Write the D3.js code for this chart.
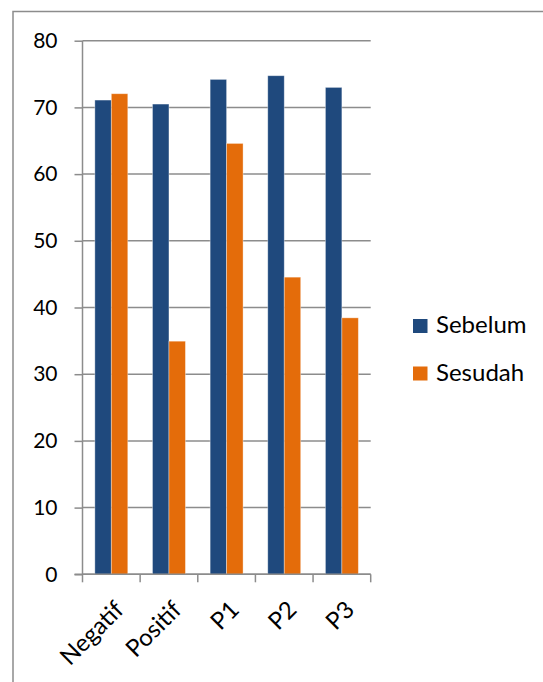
<!DOCTYPE html>
<html>
<head>
<meta charset="utf-8">
<script src="https://cdn.jsdelivr.net/npm/d3@7"></script>
<style>
  html, body { margin: 0; padding: 0; background: #fff; }
  svg { display: block; }
  text { font-family: Lato, "Open Sans", sans-serif; fill: #000; }
</style>
</head>
<body>
<svg id="chart" width="543" height="682"></svg>
<script>
// Group names, series and values
const categories = ["Negatif", "Positif", "P1", "P2", "P3"];
const seriesNames = ["Sebelum", "Sesudah"];
const sebelum = [71.1, 70.5, 74.2, 74.75, 73.0];
const sesudah = [72.05, 34.95, 64.6, 44.55, 38.45];
const yTicks = [0, 10, 20, 30, 40, 50, 60, 70, 80];
const colors = ["#1F497D", "#E46C0A"];

const svg = d3.select("#chart");

// Outer chart frame (runs past the bottom and right edges)
svg.append("rect")
  .attr("x", 13).attr("y", 11.5)
  .attr("width", 545).attr("height", 700)
  .attr("fill", "none").attr("stroke", "#8c8c8c").attr("stroke-width", 1.5);

const plot = { left: 82.5, right: 370.7, top: 40.7, bottom: 574.3 };

const x = d3.scaleBand().domain(categories).range([plot.left, plot.right]).padding(0);
// two bars per band with a 150% gap between clusters
const bw = x.bandwidth() / 3.5;
const y = d3.scaleLinear().domain([0, 80]).range([plot.bottom, plot.top]);

// Horizontal gridlines
svg.append("g")
  .selectAll("line")
  .data(yTicks)
  .join("line")
  .attr("x1", plot.left).attr("x2", plot.right)
  .attr("y1", d => y(d)).attr("y2", d => y(d))
  .attr("stroke", "#8c8c8c").attr("stroke-width", 1.5);

// Bars
const groups = svg.append("g").selectAll("g")
  .data(categories)
  .join("g")
  .attr("transform", c => `translate(${x(c)},0)`);

groups.selectAll("rect")
  .data((c, i) => [
    { s: 0, v: sebelum[i] },
    { s: 1, v: sesudah[i] }
  ])
  .join("rect")
  .attr("x", d => 0.75 * bw + d.s * bw)
  .attr("width", bw)
  .attr("y", d => y(d.v))
  .attr("height", d => y(0) - y(d.v))
  .attr("fill", d => colors[d.s])
  .attr("stroke", "rgba(255,255,255,0.45)")
  .attr("stroke-width", 0.8);

// Y axis
const yAxis = d3.axisLeft(y).tickValues(yTicks).tickSize(8).tickPadding(17).tickFormat(d3.format("d"));
const gy = svg.append("g").attr("transform", `translate(${plot.left},0)`).call(yAxis);
gy.select(".domain").attr("stroke", "#8c8c8c").attr("stroke-width", 1.5).attr("d", `M0,${plot.top}V${plot.bottom}`);
gy.selectAll(".tick line").attr("stroke", "#8c8c8c").attr("stroke-width", 1.5);
gy.selectAll(".tick text")
  .style("font-family", "Lato, 'Open Sans', sans-serif")
  .style("font-size", "21px").attr("fill", "#000");

// X axis with ticks at the category boundaries
const gx = svg.append("g").attr("transform", `translate(0,${plot.bottom})`);
gx.append("line")
  .attr("x1", plot.left - 8).attr("x2", plot.right)
  .attr("stroke", "#8c8c8c").attr("stroke-width", 1.5);
const bounds = categories.map(c => x(c)).concat([plot.right]);
gx.selectAll(".xt")
  .data(bounds)
  .join("line")
  .attr("class", "xt")
  .attr("x1", d => d).attr("x2", d => d)
  .attr("y1", 0).attr("y2", 8)
  .attr("stroke", "#8c8c8c").attr("stroke-width", 1.5);
gx.selectAll(".xl")
  .data(categories)
  .join("text")
  .attr("class", "xl")
  .attr("transform", c => `translate(${x(c) + x.bandwidth() / 2 + 8},${31}) rotate(-45)`)
  .attr("text-anchor", "end")
  .attr("dy", "0.35em")
  .style("font-size", "24px")
  .text(c => c);

// Legend
const legend = svg.append("g").attr("transform", "translate(413,319)");
const items = legend.selectAll("g")
  .data(seriesNames)
  .join("g")
  .attr("transform", (d, i) => `translate(0,${i * 47.5})`);
items.append("rect")
  .attr("width", 14.5).attr("height", 14)
  .attr("fill", (d, i) => colors[i]);
items.append("text")
  .attr("x", 23).attr("y", 14)
  .style("font-size", "24px")
  .text(d => d);
</script>
</body>
</html>
